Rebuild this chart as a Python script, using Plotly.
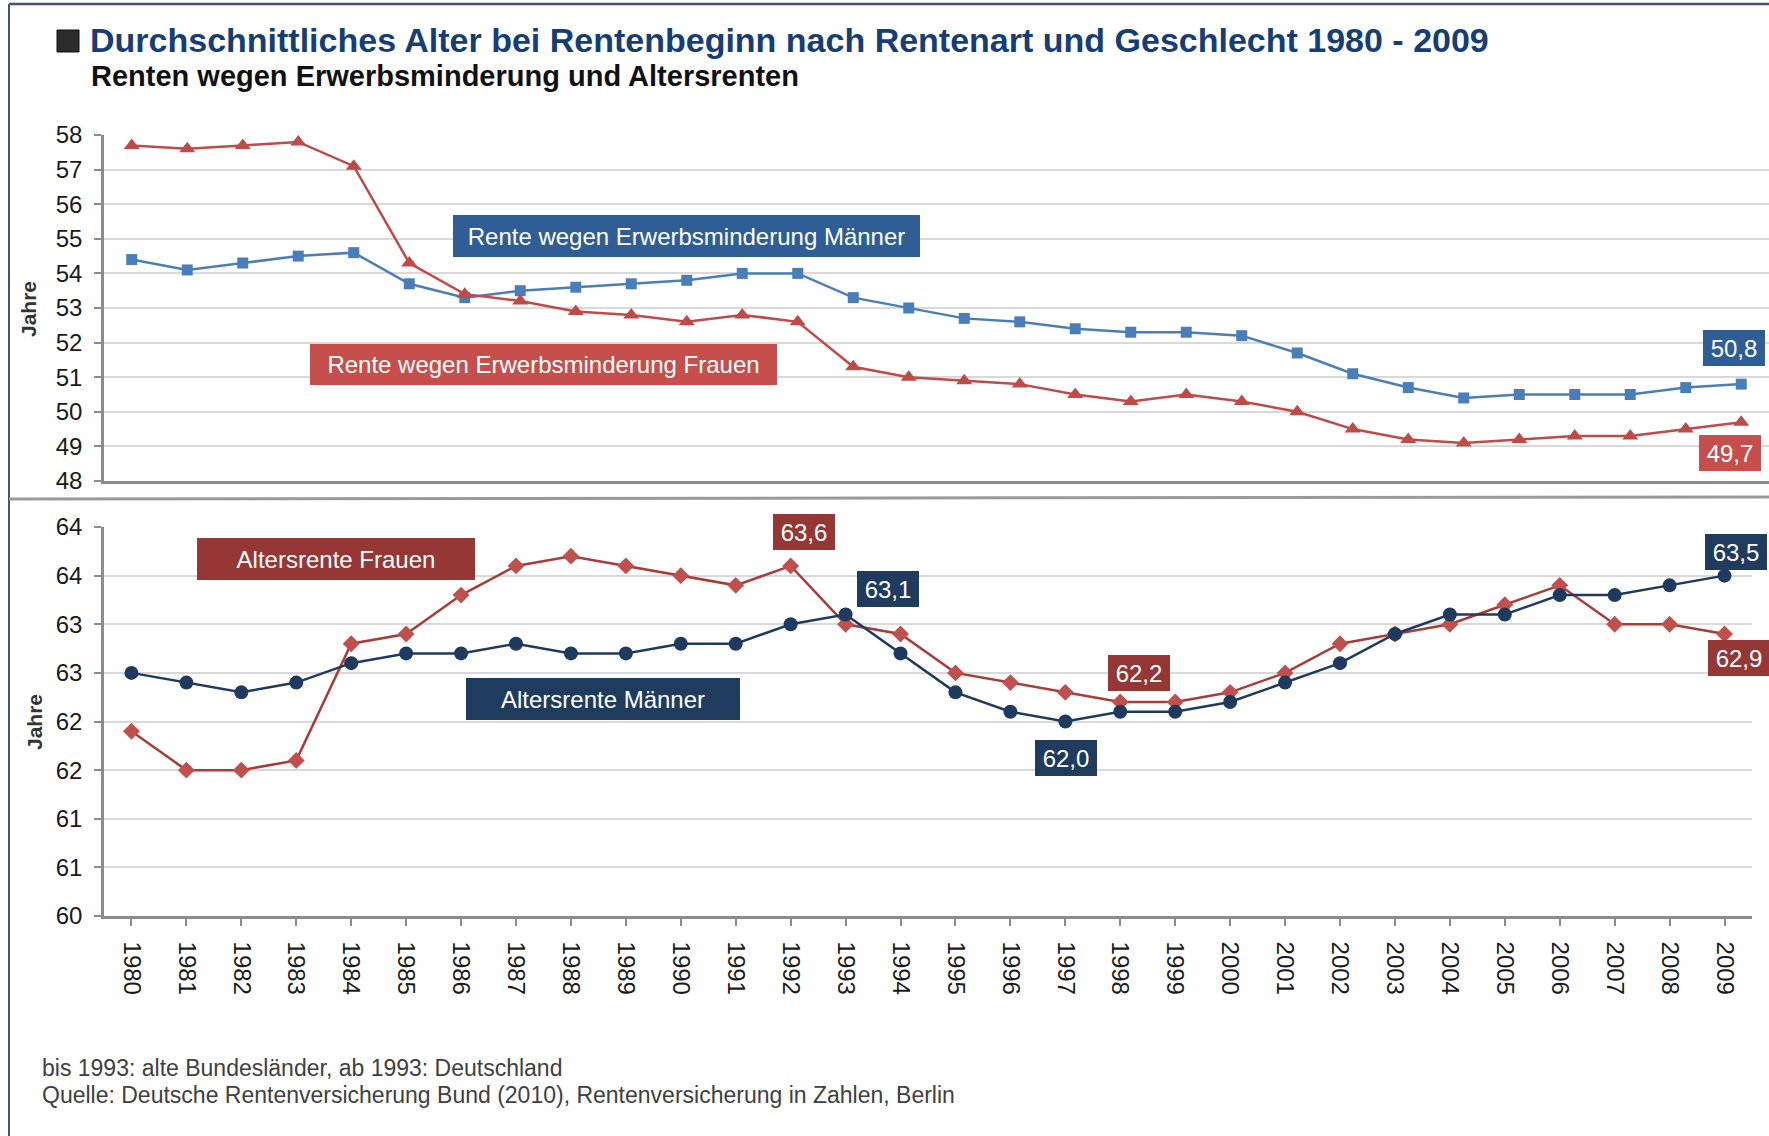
import plotly.graph_objects as go

W, H = 1769, 1136

years = [str(y) for y in range(1980, 2010)]

# Renten wegen Erwerbsminderung (oberes Diagramm)
em_maenner = [54.4, 54.1, 54.3, 54.5, 54.6, 53.7, 53.3, 53.5, 53.6, 53.7,
              53.8, 54.0, 54.0, 53.3, 53.0, 52.7, 52.6, 52.4, 52.3, 52.3,
              52.2, 51.7, 51.1, 50.7, 50.4, 50.5, 50.5, 50.5, 50.7, 50.8]
em_frauen = [57.7, 57.6, 57.7, 57.8, 57.1, 54.3, 53.4, 53.2, 52.9, 52.8,
             52.6, 52.8, 52.6, 51.3, 51.0, 50.9, 50.8, 50.5, 50.3, 50.5,
             50.3, 50.0, 49.5, 49.2, 49.1, 49.2, 49.3, 49.3, 49.5, 49.7]

# Altersrenten (unteres Diagramm)
ar_maenner = [62.5, 62.4, 62.3, 62.4, 62.6, 62.7, 62.7, 62.8, 62.7, 62.7,
              62.8, 62.8, 63.0, 63.1, 62.7, 62.3, 62.1, 62.0, 62.1, 62.1,
              62.2, 62.4, 62.6, 62.9, 63.1, 63.1, 63.3, 63.3, 63.4, 63.5]
ar_frauen = [61.9, 61.5, 61.5, 61.6, 62.8, 62.9, 63.3, 63.6, 63.7, 63.6,
             63.5, 63.4, 63.6, 63.0, 62.9, 62.5, 62.4, 62.3, 62.2, 62.2,
             62.3, 62.5, 62.8, 62.9, 63.0, 63.2, 63.4, 63.0, 63.0, 62.9]

top_tick_vals = list(range(48, 59))
bottom_tick_vals = [60, 60.5, 61, 61.5, 62, 62.5, 63, 63.5, 64]
bottom_tick_labels = ["60", "61", "61", "62", "62", "63", "63", "64", "64"]

FONT = "Liberation Sans, Arial, sans-serif"
C_EM_M = "#4A7EBB"
C_EM_F = "#BE4B48"
C_AR_M = "#1F3A5F"
C_AR_F_LINE = "#A93C39"
C_AR_F_MK = "#C0504D"
BOX_EM_M = "#2F5D96"
BOX_EM_F = "#C74F4B"
BOX_AR_F = "#953735"
BOX_AR_M = "#1F3B5E"
GRID = "#D9D9D9"
AXIS = "#8C8C8C"

fig = go.Figure()

fig.add_trace(go.Scatter(x=years, y=em_maenner, mode="lines+markers", xaxis="x", yaxis="y",
                         line=dict(color=C_EM_M, width=2.5),
                         marker=dict(symbol="square", size=11, color=C_EM_M),
                         showlegend=False, name="Rente wegen Erwerbsminderung Männer"))
fig.add_trace(go.Scatter(x=years, y=em_frauen, mode="lines+markers", xaxis="x", yaxis="y",
                         line=dict(color=C_EM_F, width=2.5),
                         marker=dict(symbol="triangle-up", size=14, color=C_EM_F),
                         showlegend=False, name="Rente wegen Erwerbsminderung Frauen"))
fig.add_trace(go.Scatter(x=years, y=ar_frauen, mode="lines+markers", xaxis="x2", yaxis="y2",
                         line=dict(color=C_AR_F_LINE, width=2.5),
                         marker=dict(symbol="diamond", size=13, color=C_AR_F_MK),
                         showlegend=False, name="Altersrente Frauen"))
fig.add_trace(go.Scatter(x=years, y=ar_maenner, mode="lines+markers", xaxis="x2", yaxis="y2",
                         line=dict(color=C_AR_M, width=2.5),
                         marker=dict(symbol="circle", size=14, color=C_AR_M),
                         showlegend=False, name="Altersrente Männer"))


def px_x(p):
    return p / W


def px_y(p):
    return 1 - p / H


tickfont = dict(family=FONT, size=24, color="#1A1A1A")

fig.update_layout(
    width=W, height=H,
    margin=dict(l=0, r=0, t=0, b=0, pad=0, autoexpand=False),
    showlegend=False,
    paper_bgcolor="white", plot_bgcolor="white",
    xaxis=dict(domain=[px_x(104), 1.0], type="category", range=[-0.5, 29.5],
               anchor="y", showgrid=False, showticklabels=False, ticks="", automargin=False,
               showline=True, linecolor=AXIS, linewidth=2.5, zeroline=False),
    yaxis=dict(domain=[px_y(481), px_y(135)], range=[48, 58], anchor="x", automargin=False,
               tickvals=top_tick_vals, tickfont=tickfont, ticks="outside", ticklen=7,
               tickcolor=AXIS, tickwidth=2, ticklabelstandoff=7,
               showgrid=True, gridcolor=GRID, gridwidth=2,
               showline=True, linecolor=AXIS, linewidth=2.5, zeroline=False),
    xaxis2=dict(domain=[px_x(104), px_x(1752)], type="category", range=[-0.5, 29.5],
                anchor="y2", showgrid=False, tickangle=90, tickfont=tickfont, automargin=False,
                ticks="outside", ticklen=7, tickcolor=AXIS, tickwidth=2,
                ticklabelstandoff=11,
                showline=True, linecolor=AXIS, linewidth=2.5, zeroline=False),
    yaxis2=dict(domain=[px_y(916), px_y(527)], range=[60, 64], anchor="x2", automargin=False,
                tickvals=bottom_tick_vals, ticktext=bottom_tick_labels, tickfont=tickfont,
                ticks="outside", ticklen=7, tickcolor=AXIS, tickwidth=2, ticklabelstandoff=7,
                showgrid=True, gridcolor=GRID, gridwidth=2,
                showline=True, linecolor=AXIS, linewidth=2.5, zeroline=False),
)

shapes = [
    # frame
    dict(type="line", xref="paper", yref="paper", x0=px_x(9), x1=px_x(9), y0=0, y1=px_y(4),
         line=dict(color="#44546F", width=2)),
    dict(type="line", xref="paper", yref="paper", x0=px_x(9), x1=1, y0=px_y(4), y1=px_y(4),
         line=dict(color="#44546F", width=2.5)),
    # separator between charts
    dict(type="line", xref="paper", yref="paper", x0=px_x(9), x1=1, y0=px_y(499), y1=px_y(497),
         line=dict(color="#9A9A9A", width=3)),
    # title square
    dict(type="rect", xref="paper", yref="paper", x0=px_x(57), x1=px_x(79), y0=px_y(52), y1=px_y(30),
         fillcolor="#2B2B2B", line=dict(color="#111111", width=1)),
]
fig.update_layout(shapes=shapes)

ann = []
ann.append(dict(xref="paper", yref="paper", x=px_x(88), y=px_y(40), xanchor="left", yanchor="middle",
                text="<b>Durchschnittliches Alter bei Rentenbeginn nach Rentenart und Geschlecht 1980 - 2009</b>",
                showarrow=False, font=dict(family=FONT, size=34, color="#173E74")))
ann.append(dict(xref="paper", yref="paper", x=px_x(89), y=px_y(76), xanchor="left", yanchor="middle",
                text="<b>Renten wegen Erwerbsminderung und Altersrenten</b>",
                showarrow=False, font=dict(family=FONT, size=29, color="#111111")))
# y-axis titles
ann.append(dict(xref="paper", yref="paper", x=px_x(28), y=px_y(309), xanchor="center", yanchor="middle",
                text="<b>Jahre</b>", textangle=-90, showarrow=False,
                font=dict(family=FONT, size=21, color="#333333")))
ann.append(dict(xref="paper", yref="paper", x=px_x(34), y=px_y(722), xanchor="center", yanchor="middle",
                text="<b>Jahre</b>", textangle=-90, showarrow=False,
                font=dict(family=FONT, size=21, color="#333333")))


def series_box(text, cx, cy, w, h, bg):
    return dict(xref="paper", yref="paper", x=px_x(cx), y=px_y(cy), xanchor="center", yanchor="middle",
                text=text, showarrow=False, bgcolor=bg, borderpad=0, borderwidth=0,
                width=w, height=h, align="center",
                font=dict(family=FONT, size=24, color="white"))


ann.append(series_box("Rente wegen Erwerbsminderung Männer", 686, 236, 467, 42, BOX_EM_M))
ann.append(series_box("Rente wegen Erwerbsminderung Frauen", 543, 364, 467, 41, BOX_EM_F))
ann.append(series_box("Altersrente Frauen", 336, 559, 278, 42, BOX_AR_F))
ann.append(series_box("Altersrente Männer", 603, 699, 274, 42, BOX_AR_M))


def value_box(xa, ya, year, series, xs, ys, bg):
    i = years.index(year)
    v = series[i]
    return dict(xref=xa, yref=ya, x=i, y=v, xshift=xs, yshift=ys,
                xanchor="center", yanchor="middle",
                text=f"{v:.1f}".replace(".", ","), showarrow=False, bgcolor=bg,
                borderpad=0, borderwidth=0, width=62, height=36,
                font=dict(family=FONT, size=24, color="white"))


ann.append(value_box("x", "y", "2009", em_maenner, -7, 36, BOX_EM_M))
ann.append(value_box("x", "y", "2009", em_frauen, -11, -31, BOX_EM_F))
ann.append(value_box("x2", "y2", "1992", ar_frauen, 13, 34, BOX_AR_F))
ann.append(value_box("x2", "y2", "1993", ar_maenner, 42, 26, BOX_AR_M))
ann.append(value_box("x2", "y2", "1997", ar_maenner, 1, -36, BOX_AR_M))
ann.append(value_box("x2", "y2", "1998", ar_frauen, 19, 29, BOX_AR_F))
ann.append(value_box("x2", "y2", "2009", ar_maenner, 11, 24, BOX_AR_M))
ann.append(value_box("x2", "y2", "2009", ar_frauen, 14, -24, BOX_AR_F))

# footer
ann.append(dict(xref="paper", yref="paper", x=px_x(40), y=px_y(1068), xanchor="left", yanchor="middle",
                text="bis 1993: alte Bundesländer, ab 1993: Deutschland", showarrow=False,
                font=dict(family=FONT, size=23, color="#404040")))
ann.append(dict(xref="paper", yref="paper", x=px_x(40), y=px_y(1095), xanchor="left", yanchor="middle",
                text="Quelle: Deutsche Rentenversicherung Bund (2010), Rentenversicherung in Zahlen, Berlin",
                showarrow=False, font=dict(family=FONT, size=23, color="#404040")))

fig.update_layout(annotations=ann)

post = (
    "document.documentElement.style.margin='0px';"
    "document.body.style.margin='0px';document.body.style.padding='0px';"
    "var d=document.getElementById('{plot_id}');"
    "d.style.position='fixed';d.style.left='0px';d.style.top='0px';"
)

fig.write_html("out.html", config={"displayModeBar": False}, post_script=post)
